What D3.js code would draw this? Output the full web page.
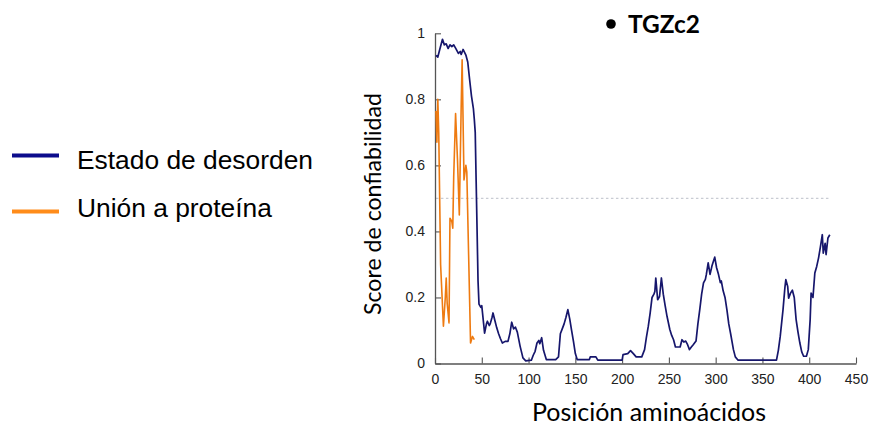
<!DOCTYPE html>
<html>
<head>
<meta charset="utf-8">
<script src="https://cdn.jsdelivr.net/npm/d3@7"></script>
<style>
  html, body { margin: 0; padding: 0; background: #ffffff; }
  svg { display: block; }
</style>
</head>
<body>
<svg id="chart" width="871" height="426"></svg>
<script>
// ---------- data ----------
const chartTitle = "TGZc2";
const xAxisTitle = "Posición aminoácidos";
const yAxisTitle = "Score de confiabilidad";
const seriesNames = ["Estado de desorden", "Unión a proteína"];
const xTicks = [0, 50, 100, 150, 200, 250, 300, 350, 400, 450];
const yTicks = [0, 0.2, 0.4, 0.6, 0.8, 1];
const yTickLabels = ["0", "0.2", "0.4", "0.6", "0.8", "1"];
const threshold = 0.5;
const thresholdRange = [1, 422];

const disorderPos = [1,3,5,8,10,12,14,16,18,20,22,25,27,28,30,32,33,35,37,39,41,42,43,44,45,46,47,49,50,52,53,55,56,58,59,61,62,64,66,68,70,72,75,78,80,82,84,86,88,91,94,97,103,105,107,109,111,112,114,116,119,129,132,134,136,138,140,142,144,146,148,150,152,165,166,172,174,200,201,206,209,212,215,221,224,226,228,230,232,234,235,236,238,240,242,244,246,248,251,253,255,257,262,264,266,268,270,272,274,276,279,281,283,285,287,289,290,292,294,296,297,299,301,303,305,306,308,310,312,314,316,319,321,324,365,367,369,372,374,375,377,378,380,382,384,386,388,390,392,394,397,399,401,402,404,406,408,410,412,414,415,417,418,420,422];
const disorderVal = [0.933,0.928,0.95,0.982,0.965,0.968,0.954,0.965,0.96,0.965,0.955,0.939,0.945,0.936,0.951,0.94,0.934,0.913,0.86,0.81,0.773,0.74,0.70,0.55,0.40,0.25,0.18,0.17,0.175,0.12,0.092,0.12,0.128,0.115,0.12,0.14,0.153,0.13,0.108,0.09,0.075,0.062,0.067,0.067,0.09,0.125,0.105,0.11,0.095,0.052,0.017,0.008,0.01,0.025,0.037,0.062,0.07,0.06,0.078,0.04,0.012,0.012,0.02,0.09,0.105,0.12,0.14,0.163,0.135,0.10,0.067,0.03,0.012,0.012,0.02,0.02,0.01,0.01,0.027,0.03,0.039,0.03,0.02,0.02,0.042,0.08,0.113,0.153,0.2,0.21,0.218,0.259,0.193,0.203,0.259,0.21,0.175,0.143,0.103,0.085,0.072,0.05,0.05,0.072,0.065,0.068,0.057,0.042,0.05,0.057,0.068,0.12,0.163,0.21,0.244,0.255,0.269,0.305,0.27,0.295,0.304,0.322,0.29,0.27,0.245,0.25,0.22,0.2,0.163,0.12,0.09,0.042,0.02,0.01,0.01,0.04,0.082,0.163,0.23,0.254,0.233,0.198,0.213,0.222,0.2,0.133,0.095,0.062,0.035,0.022,0.022,0.042,0.133,0.213,0.2,0.274,0.294,0.32,0.354,0.39,0.334,0.364,0.33,0.38,0.39];

const bindingPos = [1,2,3,4,6,9,11,12,13,15,16,18,19,20,22,24,26,28,29,31,33,34,38,40,42];
const bindingVal = [0.765,0.67,0.8,0.7,0.3,0.113,0.2,0.259,0.183,0.123,0.44,0.43,0.41,0.566,0.757,0.62,0.45,0.78,0.92,0.556,0.60,0.58,0.062,0.082,0.072];

// ---------- drawing ----------
const svg = d3.select("#chart");
const x = d3.scaleLinear().domain([0, 450]).range([435, 856]);
const y = d3.scaleLinear().domain([0, 1]).range([363.5, 33.3]);

const disorderColor = "#16166c";
const bindingColor = "#ee7a10";
const legendColors = ["#0c0c8c", "#ff8c1a"];

function fitWidth(sel, target) {
  const w = sel.node().getComputedTextLength();
  const fs = parseFloat(sel.attr("font-size"));
  if (w > 0) sel.attr("font-size", (fs * target / w).toFixed(2));
}

// threshold line
svg.append("line")
  .attr("x1", x(thresholdRange[0])).attr("x2", x(thresholdRange[1]))
  .attr("y1", y(threshold)).attr("y2", y(threshold))
  .attr("stroke", "#c9ccd4").attr("stroke-width", 1.2)
  .attr("stroke-dasharray", "2.5,2.5");

// axes
const xAxis = d3.axisBottom(x).tickValues(xTicks).tickSizeInner(-6).tickSizeOuter(0).tickPadding(11);
const yAxis = d3.axisLeft(y).tickValues(yTicks).tickSizeInner(-6).tickSizeOuter(0).tickPadding(10)
  .tickFormat((d, i) => yTickLabels[i]);

const gx = svg.append("g").attr("transform", `translate(0,${y(0)})`).call(xAxis);
const gy = svg.append("g").attr("transform", `translate(${x(0)},0)`).call(yAxis);
[gx, gy].forEach(g => {
  g.selectAll("path.domain").attr("stroke", "#555").attr("stroke-width", 1.3);
  g.selectAll(".tick line").attr("stroke", "#555").attr("stroke-width", 1.1);
  g.selectAll(".tick text").attr("fill", "#222")
    .attr("font-family", "'Liberation Sans', Arial, sans-serif").attr("font-size", 14);
});

// series
const lineGen = d3.line().x(d => x(d[0])).y(d => y(d[1]));
svg.append("path")
  .datum(disorderPos.map((p, i) => [p, disorderVal[i]]))
  .attr("d", lineGen).attr("fill", "none")
  .attr("stroke", disorderColor).attr("stroke-width", 1.7).attr("stroke-linejoin", "round");
svg.append("path")
  .datum(bindingPos.map((p, i) => [p, bindingVal[i]]))
  .attr("d", lineGen).attr("fill", "none")
  .attr("stroke", bindingColor).attr("stroke-width", 1.6).attr("stroke-linejoin", "round");

// axis titles
const xt = svg.append("text").text(xAxisTitle)
  .attr("x", 649).attr("y", 421).attr("text-anchor", "middle")
  .attr("font-family", "Lato, 'Open Sans', sans-serif").attr("font-size", 20).attr("fill", "#000");
fitWidth(xt, 234);

const yt = svg.append("text").text(yAxisTitle)
  .attr("transform", "translate(381,204) rotate(-90)").attr("text-anchor", "middle")
  .attr("font-family", "Lato, 'Open Sans', sans-serif").attr("font-size", 20).attr("fill", "#000");
fitWidth(yt, 222);

// title with bullet
svg.append("circle").attr("cx", 611).attr("cy", 24).attr("r", 4.8).attr("fill", "#000");
const tt = svg.append("text").text(chartTitle)
  .attr("x", 628).attr("y", 32.5)
  .attr("font-family", "Lato, 'Open Sans', sans-serif").attr("font-weight", "bold")
  .attr("font-size", 24).attr("fill", "#000");
fitWidth(tt, 72);

// legend
const legendY = [155.5, 211.5];
const legendBase = [169, 217];
const lg = svg.append("g");
seriesNames.forEach((name, i) => {
  lg.append("line").attr("x1", 12).attr("x2", 59)
    .attr("y1", legendY[i]).attr("y2", legendY[i])
    .attr("stroke", legendColors[i]).attr("stroke-width", 4.2);
  const t = lg.append("text").text(name).attr("x", 77).attr("y", legendBase[i])
    .attr("font-family", "'Liberation Sans', Arial, sans-serif").attr("font-size", 26).attr("fill", "#000");
  if (i === 0) fitWidth(t, 236);
});
const fs0 = lg.select("text").attr("font-size");
lg.selectAll("text").attr("font-size", fs0);
</script>
</body>
</html>
